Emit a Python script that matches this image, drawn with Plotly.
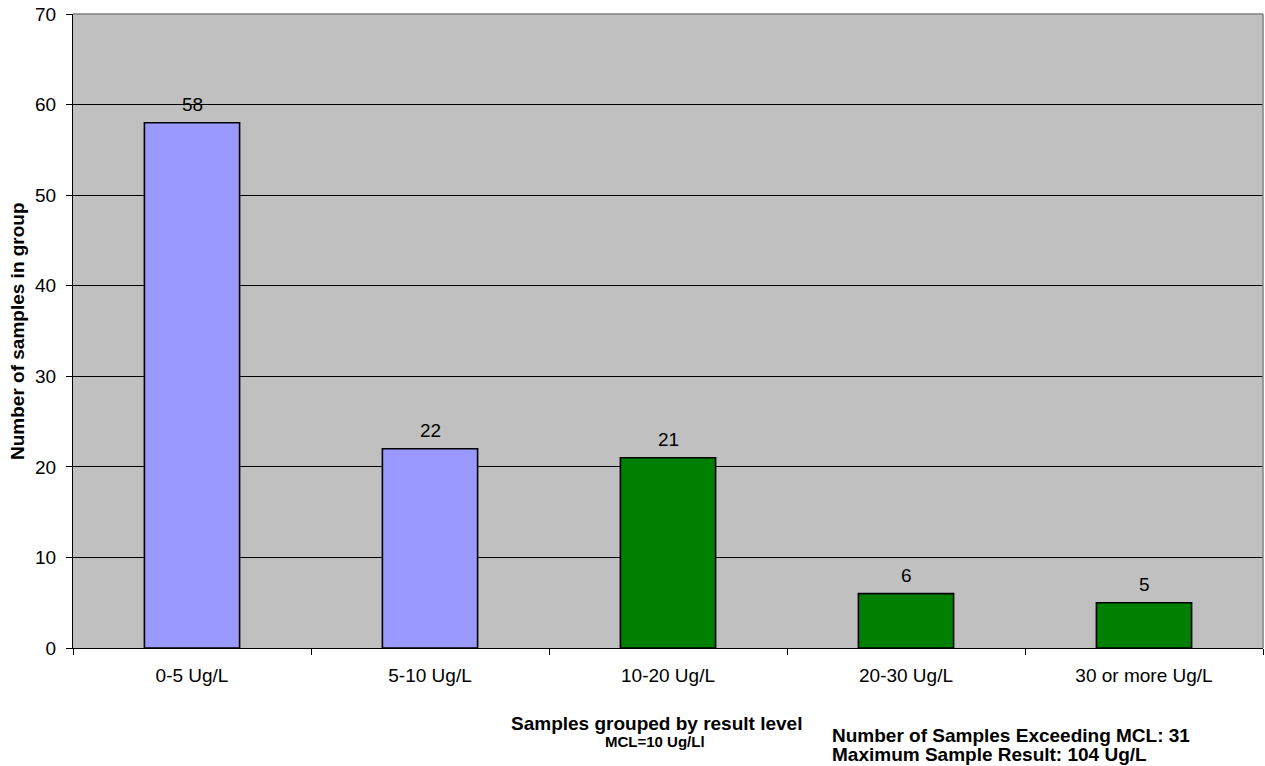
import plotly.graph_objects as go

categories = ["0-5 Ug/L", "5-10 Ug/L", "10-20 Ug/L", "20-30 Ug/L", "30 or more Ug/L"]
counts = [58, 22, 21, 6, 5]
bar_colors = ["#9999FF", "#9999FF", "#008000", "#008000", "#008000"]
y_ticks = [0, 10, 20, 30, 40, 50, 60, 70]

W, H = 1265, 766
L, R, T, B = 73, 1263, 14, 648          # plot area in pixels
pw, ph = R - L, B - T

def px(x):
    return (x - L) / pw

def py(y):
    return (B - y) / ph

font = "Liberation Sans, Arial, sans-serif"
FS = 19

fig = go.Figure(go.Bar(
    x=categories, y=counts,
    marker=dict(color=bar_colors, line=dict(color="black", width=1.6)),
    width=0.4,
))

for c, v in zip(categories, counts):
    fig.add_annotation(x=c, y=v, text=str(v), showarrow=False, yanchor="bottom",
                       yshift=6, font=dict(size=FS, color="black"))

fig.update_layout(
    width=W, height=H,
    margin=dict(l=L, r=W - R, t=T, b=H - B),
    paper_bgcolor="white", plot_bgcolor="#C0C0C0",
    font=dict(family=font, size=FS, color="black"),
    showlegend=False,
    xaxis=dict(showline=True, linecolor="black", linewidth=1, ticks="outside",
               tickson="boundaries", ticklen=6, tickcolor="black",
               tickfont=dict(size=FS), showgrid=False, ticklabelstandoff=10),
    yaxis=dict(range=[0, 70], tickvals=y_ticks, showline=True, linecolor="black",
               linewidth=1, ticks="outside", ticklen=6, tickcolor="black",
               gridcolor="black", gridwidth=1, zeroline=False,
               tickfont=dict(size=FS), ticklabelstandoff=6),
    shapes=[
        dict(type="line", xref="paper", yref="paper", x0=0, x1=1, y0=1, y1=1,
             line=dict(color="#808080", width=1.5)),
        dict(type="line", xref="paper", yref="paper", x0=1, x1=1, y0=0, y1=1,
             line=dict(color="#808080", width=1.5)),
    ],
    annotations=list(fig.layout.annotations) + [
        dict(text="<b>Number of samples in group</b>", textangle=-90, xref="paper",
             yref="paper", x=px(17), y=0.5, xanchor="center", yanchor="middle",
             showarrow=False, font=dict(size=FS)),
        dict(text="<b>Samples grouped by result level</b>", xref="paper", yref="paper",
             x=px(656), y=py(723), xanchor="center", yanchor="middle",
             showarrow=False, font=dict(size=FS)),
        dict(text="<b>MCL=10 Ug/Ll</b>", xref="paper", yref="paper",
             x=px(655), y=py(741), xanchor="center", yanchor="middle",
             showarrow=False, font=dict(size=15)),
        dict(text="<b>Number of Samples Exceeding MCL: 31</b>", xref="paper",
             yref="paper", x=px(830), y=py(735), xanchor="left", yanchor="middle",
             showarrow=False, font=dict(size=FS)),
        dict(text="<b>Maximum Sample Result: 104 Ug/L</b>", xref="paper",
             yref="paper", x=px(830), y=py(754), xanchor="left", yanchor="middle",
             showarrow=False, font=dict(size=FS)),
    ],
)

fig.write_html("out.html", config={"displayModeBar": False},
               post_script="document.body.style.margin='0px';")
